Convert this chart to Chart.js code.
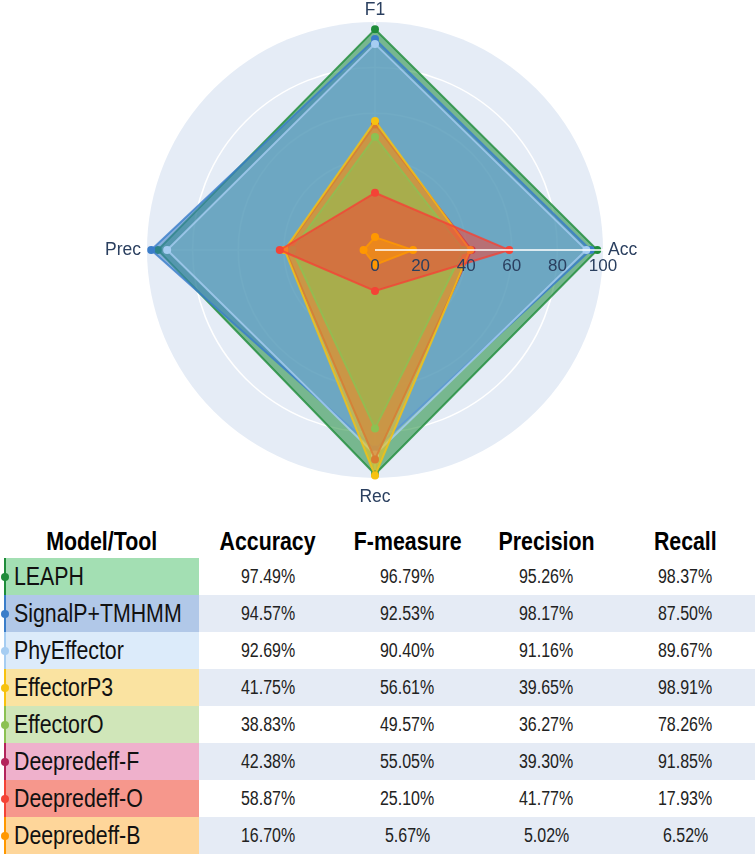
<!DOCTYPE html>
<html>
<head>
<meta charset="utf-8">
<script src="https://cdn.jsdelivr.net/npm/chart.js@4/dist/chart.umd.min.js"></script>
<style>
  html, body { margin:0; padding:0; background:#fff; }
  #wrap { position:relative; width:756px; height:854px; overflow:hidden; background:#fff; }
  #chartBox { position:absolute; left:0; top:-4px; width:756px; height:516px; }
  #tbl { position:absolute; left:4px; top:520px; border-collapse:collapse; table-layout:fixed; width:750px;
         font-family:"Liberation Sans",Arial,sans-serif; }
  #tbl th { height:34px; padding:4px 0 0 0; font-size:26px; font-weight:bold; color:#000; text-align:center; vertical-align:middle; white-space:nowrap; }
  #tbl td { height:37px; padding:0; text-align:center; vertical-align:middle; font-size:19.5px; color:#222; white-space:nowrap; }
  #tbl td.name { position:relative; text-align:left; padding-left:8px; font-size:26px; color:#111; border-left:2px solid #000; }
  #tbl td.name span.dot { position:absolute; left:-5px; top:50%; width:8px; height:8px; margin-top:-4px; border-radius:50%; }
  #tbl tr.alt td.val { background:#e5ebf5; }
  .nar { display:inline-block; transform:scaleX(0.82); transform-origin:center center; }
  td.name .nar { transform-origin:left center; }
</style>
</head>
<body>
<div id="wrap">
  <div id="chartBox"><canvas id="c"></canvas></div>
  <table id="tbl">
    <colgroup><col style="width:194px"><col style="width:139px"><col style="width:139px"><col style="width:139px"><col style="width:139px"></colgroup>
    <thead><tr id="hdr"></tr></thead>
    <tbody id="body"></tbody>
  </table>
</div>
<script>
// ---- data ----
const axisLabels = ['F1', 'Acc', 'Rec', 'Prec'];
const models = ['LEAPH', 'SignalP+TMHMM', 'PhyEffector', 'EffectorP3', 'EffectorO', 'Deepredeff-F', 'Deepredeff-O', 'Deepredeff-B'];
const accuracy  = [97.49, 94.57, 92.69, 41.75, 38.83, 42.38, 58.87, 16.70];
const fmeasure  = [96.79, 92.53, 90.40, 56.61, 49.57, 55.05, 25.10, 5.67];
const precision = [95.26, 98.17, 91.16, 39.65, 36.27, 39.30, 41.77, 5.02];
const recall    = [98.37, 87.50, 89.67, 98.91, 78.26, 91.85, 17.93, 6.52];
const tickValues = [0, 20, 40, 60, 80, 100];
const headers = ['Model/Tool', 'Accuracy', 'F-measure', 'Precision', 'Recall'];

// ---- styles ----
const lineColors = ['#1e8c3a', '#3a7dc9', '#a6cdf2', '#f7c20f', '#8cc152', '#b3245c', '#f44336', '#ff9800'];
const fillAlpha  = [0.55, 0.55, 0.3, 0.55, 0.55, 0.55, 0.55, 0.55];
const cellColors = ['#a3dfb3', '#b1c8e8', '#dcebfa', '#fae3a1', '#d0e6b9', '#efb1cc', '#f6978c', '#fed69a'];
const drawSequence = ['LEAPH', 'SignalP+TMHMM', 'PhyEffector', 'Deepredeff-F', 'EffectorP3', 'EffectorO', 'Deepredeff-O', 'Deepredeff-B'];
const labelPadding = [1.5, 5, 9, 6];

function hexA(hex, a) {
  const n = parseInt(hex.slice(1), 16);
  return 'rgba(' + ((n >> 16) & 255) + ',' + ((n >> 8) & 255) + ',' + (n & 255) + ',' + a + ')';
}
function narrow(text) {
  const s = document.createElement('span');
  s.className = 'nar';
  s.textContent = text;
  return s;
}

// ---- table ----
const hdr = document.getElementById('hdr');
headers.forEach(h => { const th = document.createElement('th'); th.appendChild(narrow(h)); hdr.appendChild(th); });
const body = document.getElementById('body');
const fmt = v => v.toFixed(2) + '%';
models.forEach((m, i) => {
  const tr = document.createElement('tr');
  if (i % 2 === 1) tr.className = 'alt';
  const td = document.createElement('td');
  td.className = 'name';
  td.style.background = cellColors[i];
  td.style.borderLeftColor = lineColors[i];
  const dot = document.createElement('span');
  dot.className = 'dot';
  dot.style.background = lineColors[i];
  td.appendChild(dot);
  td.appendChild(narrow(m));
  tr.appendChild(td);
  [accuracy[i], fmeasure[i], precision[i], recall[i]].forEach(v => {
    const c = document.createElement('td');
    c.className = 'val';
    c.appendChild(narrow(fmt(v)));
    tr.appendChild(c);
  });
  body.appendChild(tr);
});

// ---- chart ----
const radialAxisPlugin = {
  id: 'radialAxis',
  afterDatasetsDraw(chart) {
    const s = chart.scales.r;
    const ctx = chart.ctx;
    const a = s.getPointPositionForValue(1, 0);
    const b = s.getPointPositionForValue(1, 100);
    ctx.save();
    ctx.strokeStyle = '#ffffff';
    ctx.lineWidth = 1.5;
    ctx.beginPath();
    ctx.moveTo(a.x, a.y);
    ctx.lineTo(b.x, b.y);
    ctx.stroke();
    ctx.fillStyle = '#2a3f5f';
    ctx.font = '17px "Liberation Sans", Arial, sans-serif';
    ctx.textAlign = 'center';
    ctx.textBaseline = 'middle';
    tickValues.forEach(v => {
      const p = s.getPointPositionForValue(1, v);
      ctx.fillText(String(v), p.x, p.y + 16);
    });
    ctx.restore();
  }
};

Chart.defaults.font.family = '"Liberation Sans", Arial, sans-serif';

new Chart(document.getElementById('c'), {
  type: 'radar',
  data: {
    labels: axisLabels,
    datasets: models.map((m, i) => ({
      label: m,
      data: [fmeasure[i], accuracy[i], recall[i], precision[i]],
      order: models.length - drawSequence.indexOf(m),
      fill: true,
      backgroundColor: hexA(lineColors[i], fillAlpha[i]),
      borderColor: hexA(lineColors[i], 0.8),
      borderWidth: 2,
      pointRadius: 4,
      pointBackgroundColor: lineColors[i],
      pointBorderWidth: 0,
      tension: 0
    }))
  },
  options: {
    responsive: true,
    maintainAspectRatio: false,
    animation: false,
    layout: { padding: { left: 0, right: 6, top: 0, bottom: 0 } },
    plugins: { legend: { display: false }, tooltip: { enabled: false } },
    scales: {
      r: {
        min: 0, max: 100,
        backgroundColor: '#e5ecf6',
        ticks: { display: false, stepSize: 20 },
        grid: {
          circular: true,
          color: (ctx) => (ctx.tick && ctx.tick.value === 100) ? 'rgba(0,0,0,0)' : '#ffffff',
          lineWidth: 1.5
        },
        angleLines: { color: '#ffffff', lineWidth: 1.5 },
        pointLabels: {
          color: '#2a3f5f',
          font: { size: 17.5 },
          padding: (ctx) => labelPadding[ctx.index]
        }
      }
    }
  },
  plugins: [radialAxisPlugin]
});
</script>
</body>
</html>
